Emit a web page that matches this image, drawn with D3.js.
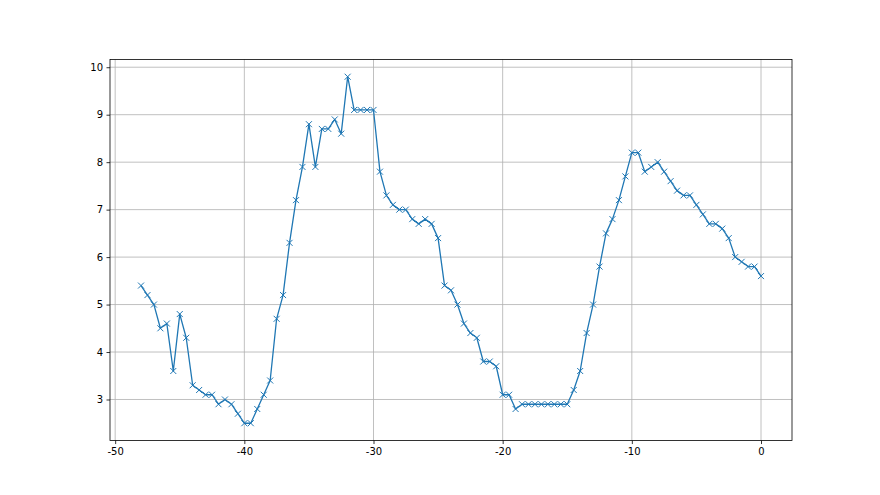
<!DOCTYPE html>
<html lang="en">
    <head>
        <meta charset="utf-8">
        <title>Line chart</title>
        <script type="text/javascript" src="https://cdn.jsdelivr.net/npm/d3@7/dist/d3.min.js"></script>
        <style>
            body { margin: 0; background: #fff; }
            text { font-family: "DejaVu Sans", sans-serif; }
        </style>
    </head>
    <body>
        <script type="text/javascript">

			/* data */
			var xValues = [-48, -47.5, -47, -46.5, -46, -45.5, -45, -44.5, -44, -43.5,
							-43, -42.5, -42, -41.5, -41, -40.5, -40, -39.5, -39, -38.5,
							-38, -37.5, -37, -36.5, -36, -35.5, -35, -34.5, -34, -33.5,
							-33, -32.5, -32, -31.5, -31, -30.5, -30, -29.5, -29, -28.5,
							-28, -27.5, -27, -26.5, -26, -25.5, -25, -24.5, -24, -23.5,
							-23, -22.5, -22, -21.5, -21, -20.5, -20, -19.5, -19, -18.5,
							-18, -17.5, -17, -16.5, -16, -15.5, -15, -14.5, -14, -13.5,
							-13, -12.5, -12, -11.5, -11, -10.5, -10, -9.5, -9, -8.5,
							-8, -7.5, -7, -6.5, -6, -5.5, -5, -4.5, -4, -3.5,
							-3, -2.5, -2, -1.5, -1, -0.5, 0];
			var yValues = [5.4, 5.2, 5.0, 4.5, 4.6, 3.6, 4.8, 4.3, 3.3, 3.2,
							3.1, 3.1, 2.9, 3.0, 2.9, 2.7, 2.5, 2.5, 2.8, 3.1,
							3.4, 4.7, 5.2, 6.3, 7.2, 7.9, 8.8, 7.9, 8.7, 8.7,
							8.9, 8.6, 9.8, 9.1, 9.1, 9.1, 9.1, 7.8, 7.3, 7.1,
							7.0, 7.0, 6.8, 6.7, 6.8, 6.7, 6.4, 5.4, 5.3, 5.0,
							4.6, 4.4, 4.3, 3.8, 3.8, 3.7, 3.1, 3.1, 2.8, 2.9,
							2.9, 2.9, 2.9, 2.9, 2.9, 2.9, 2.9, 3.2, 3.6, 4.4,
							5.0, 5.8, 6.5, 6.8, 7.2, 7.7, 8.2, 8.2, 7.8, 7.9,
							8.0, 7.8, 7.6, 7.4, 7.3, 7.3, 7.1, 6.9, 6.7, 6.7,
							6.6, 6.4, 6.0, 5.9, 5.8, 5.8, 5.6];
			var xTicks = [-50, -40, -30, -20, -10, 0];
			var yTicks = [3, 4, 5, 6, 7, 8, 9, 10];

			var dataset = xValues.map(function(d, i) { return [d, yValues[i]]; });

			/* SVG object */
			var w = 880;
			var h = 495;
			var padL = 110, padR = 792, padT = 59.4, padB = 440.55;
			var svg = d3.select("body")
						.append("svg")
						.attr("width", w)
						.attr("height", h);

			// matplotlib style 5% margins
			var xMin = d3.min(xValues), xMax = d3.max(xValues);
			var yMin = d3.min(yValues), yMax = d3.max(yValues);
			var xPad = (xMax - xMin) * 0.05, yPad = (yMax - yMin) * 0.05;

			var xScale = d3.scaleLinear()
							.domain([xMin - xPad, xMax + xPad])
							.range([padL, padR]);
			var yScale = d3.scaleLinear()
							.domain([yMin - yPad, yMax + yPad])
							.range([padB, padT]);

			//grid
			svg.append("g")
				.selectAll("line")
				.data(xTicks)
				.enter()
				.append("line")
				.attr("x1", function(d) { return xScale(d); })
				.attr("x2", function(d) { return xScale(d); })
				.attr("y1", padT)
				.attr("y2", padB)
				.attr("stroke", "#b0b0b0")
				.attr("stroke-width", 0.8);
			svg.append("g")
				.selectAll("line")
				.data(yTicks)
				.enter()
				.append("line")
				.attr("x1", padL)
				.attr("x2", padR)
				.attr("y1", function(d) { return yScale(d); })
				.attr("y2", function(d) { return yScale(d); })
				.attr("stroke", "#b0b0b0")
				.attr("stroke-width", 0.8);

			//axes
			var xAxis = d3.axisBottom(xScale)
							.tickValues(xTicks)
							.tickSize(3.5)
							.tickPadding(3.5)
							.tickFormat(function(d) { return d; });
			var yAxis = d3.axisLeft(yScale)
							.tickValues(yTicks)
							.tickSize(3.5)
							.tickPadding(3.5);

			var gx = svg.append("g")
				.attr("transform", "translate(0," + padB + ")")
				.call(xAxis);
			var gy = svg.append("g")
				.attr("transform", "translate(" + padL + ",0)")
				.call(yAxis);
			[gx, gy].forEach(function(g) {
				g.select(".domain").remove();
				g.selectAll("line").attr("stroke", "#000").attr("stroke-width", 0.8);
				g.selectAll("text")
					.attr("font-family", "DejaVu Sans, sans-serif")
					.attr("font-size", "10px")
					.attr("fill", "#000");
			});

			//frame
			svg.append("rect")
				.attr("x", padL)
				.attr("y", padT)
				.attr("width", padR - padL)
				.attr("height", padB - padT)
				.attr("fill", "none")
				.attr("stroke", "#000")
				.attr("stroke-width", 0.8);

			//line
			var line = d3.line()
						.x(function(d) { return xScale(d[0]); })
						.y(function(d) { return yScale(d[1]); });
			svg.append("path")
				.datum(dataset)
				.attr("d", line)
				.attr("fill", "none")
				.attr("stroke", "#1f77b4")
				.attr("stroke-width", 1.3)
				.attr("stroke-linejoin", "round");

			//x markers
			var m = 3;
			svg.append("g")
				.selectAll("path")
				.data(dataset)
				.enter()
				.append("path")
				.attr("d", function(d) {
					var cx = xScale(d[0]), cy = yScale(d[1]);
					return "M" + (cx - m) + "," + (cy - m) + "L" + (cx + m) + "," + (cy + m) +
						"M" + (cx - m) + "," + (cy + m) + "L" + (cx + m) + "," + (cy - m);
				})
				.attr("stroke", "#1f77b4")
				.attr("stroke-width", 1);
		</script>
	</body>
</html>
